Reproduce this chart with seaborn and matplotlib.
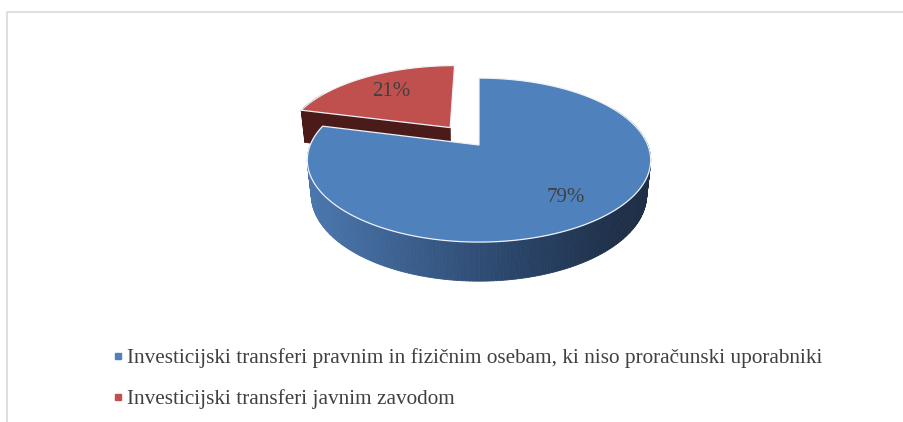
import numpy as np
import matplotlib
matplotlib.use("Agg")
import matplotlib.pyplot as plt
import matplotlib.colors as mcolors
from matplotlib.patches import Polygon
from matplotlib.collections import PolyCollection
from matplotlib.lines import Line2D
import seaborn as sns

# data
labels = ["Investicijski transferi pravnim in fizičnim osebam, ki niso proračunski uporabniki",
          "Investicijski transferi javnim zavodom"]
shares = [79, 21]

# look of the 3d pie (Excel style)
top_colors = ["#4f81bd", "#c0504d"]
side_dark = ["#2a4366", "#4b1b1a"]
explode = [0.0, 0.29]
label_r = [0.75, 0.68]
ELEV = np.radians(28)
DIST = 4.8
SCALE = 810
DEPTH = 0.235
CX, CY = 479, 145

sns.set_style("white")
plt.rcParams["font.family"] = ["Liberation Serif", "DejaVu Serif"]


def project(u, v, h):
    # simple perspective projection of the pie disk (radius 1) to pixels
    s, c = np.sin(ELEV), np.cos(ELEV)
    yv = v * s + h * c
    z = v * c - h * s
    f = SCALE / (DIST + z)
    return CX + u * f, CY - yv * f


fig = plt.figure(figsize=(9.04, 4.22), dpi=100)
ax = fig.add_axes([0, 0, 1, 1])
ax.set_xlim(0, 904)
ax.set_ylim(422, 0)
ax.axis("off")

# chart border (cut off on right and bottom)
ax.plot([7.5, 7.5, 904], [422, 11.5, 11.5], color="#d9d9d9", lw=1.2, zorder=0)

side_cmap = mcolors.LinearSegmentedColormap.from_list("side", ["#4b77ae", "#3a5e8c", "#2a4468", "#1e2f47"])

fracs = np.array(shares) / np.sum(shares)
start = 90.0
wedges = []
for i, fr in enumerate(fracs):
    t1 = start
    t2 = start - fr * 360
    start = t2
    wedges.append((t1, t2))

# draw back (exploded) slice first
order = [1, 0]
for i in order:
    t1, t2 = wedges[i]
    mid = np.radians((t1 + t2) / 2)
    ox, oy = explode[i] * np.cos(mid), explode[i] * np.sin(mid)
    th = np.radians(np.linspace(t1, t2, 300))
    u = ox + np.cos(th)
    v = oy + np.sin(th)

    # outer wall as thin quads, shaded by screen x (back part is hidden)
    xt, yt = project(u, v, 0)
    xb, yb = project(u, v, -DEPTH)
    quads = []
    cols = []
    for k in range(len(th) - 1):
        if np.sin(th[k]) > 0.5:
            continue
        quads.append([(xt[k], yt[k]), (xt[k + 1], yt[k + 1]), (xb[k + 1], yb[k + 1]), (xb[k], yb[k])])
        if i == 0:
            cols.append(side_cmap(np.clip((xt[k] - 308) / (625 - 308), 0, 1)))
        else:
            cols.append(side_dark[i])
    ax.add_collection(PolyCollection(quads, facecolors=cols, edgecolors=cols, linewidths=0.6, zorder=2))

    # radial faces, only the ones turned to the viewer
    for t, turn in ((t1, 90), (t2, -90)):
        if np.sin(np.radians(t + turn)) > -0.01:
            continue
        a = np.radians(t)
        pu = np.array([ox, ox + np.cos(a), ox + np.cos(a), ox])
        pv = np.array([oy, oy + np.sin(a), oy + np.sin(a), oy])
        ph = np.array([0, 0, -DEPTH, -DEPTH])
        px, py = project(pu, pv, ph)
        ax.add_patch(Polygon(np.column_stack([px, py]), closed=True, facecolor=side_dark[i],
                             edgecolor=side_dark[i], lw=0.5, zorder=2))

    # top face
    ax_, ay_ = project(ox, oy, 0)
    top = np.column_stack([np.r_[ax_, xt], np.r_[ay_, yt]])
    ax.add_patch(Polygon(top, closed=True, facecolor=top_colors[i], edgecolor="#eef2f7",
                         lw=0.9, zorder=3))

    # percent label
    lx, ly = project(ox + label_r[i] * np.cos(mid), oy + label_r[i] * np.sin(mid), 0)
    ax.text(lx, ly, f"{shares[i]}%", ha="center", va="center", fontsize=15,
            color="#404040", zorder=4)

handles = [Line2D([], [], linestyle="none", marker="s", markersize=3.8,
                  markerfacecolor=c, markeredgecolor=c) for c in top_colors]
ax.legend(handles, labels, loc="upper left", bbox_to_anchor=(113 / 904, 1 - 348.5 / 422),
          frameon=False, fontsize=15.3, handlelength=0.5, handletextpad=0.16,
          borderpad=0, borderaxespad=0, labelspacing=0.98, labelcolor="#404040")

fig.savefig("out.png", dpi=100)
